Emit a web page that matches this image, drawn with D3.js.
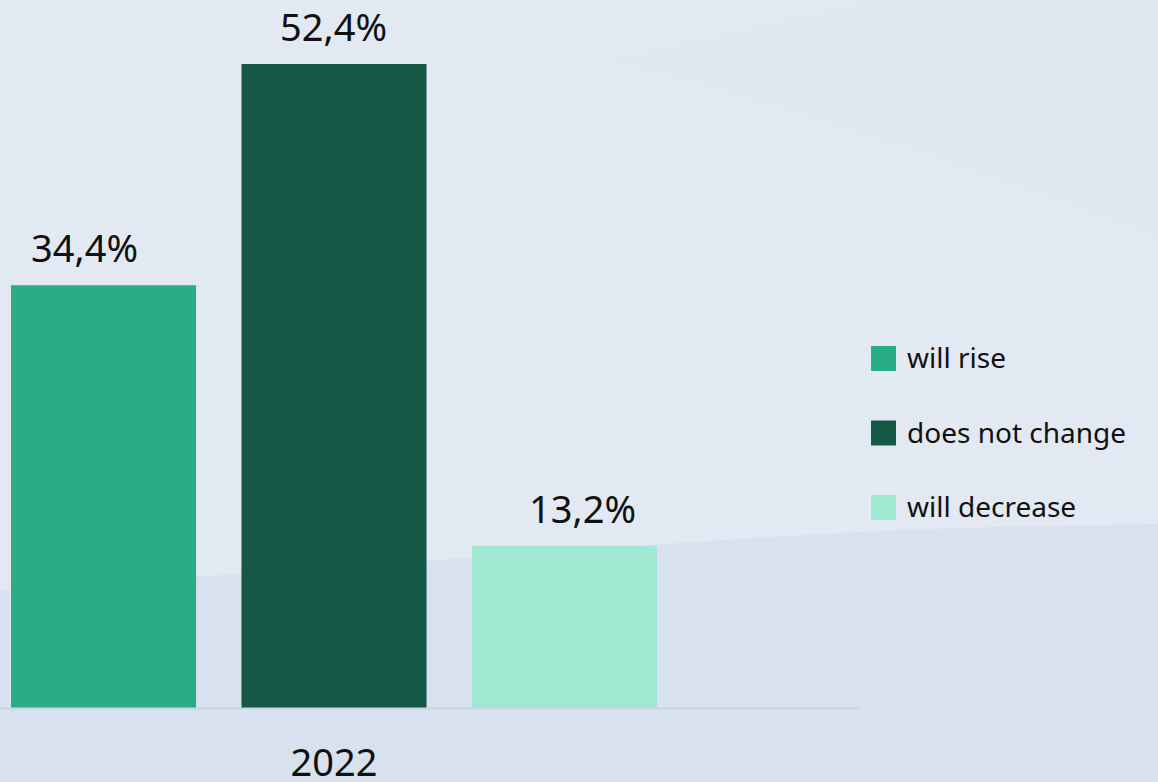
<!DOCTYPE html>
<html>
<head>
<meta charset="utf-8">
<script src="https://cdn.jsdelivr.net/npm/d3@7"></script>
<style>
  html, body { margin: 0; padding: 0; background: #e2e9f3; }
  svg { display: block; }
</style>
</head>
<body>
<svg id="chart" width="1158" height="782"></svg>
<script>
// Survey answers for 2022
const categories = ["2022"];
const series = ["will rise", "does not change", "will decrease"];
const values = [34.4, 52.4, 13.2];
const valueLabels = ["34,4%", "52,4%", "13,2%"];
const colors = ["#29ad85", "#165846", "#a1e8d3"];

const W = 1158, H = 782;
const baseY = 708, topY = 64;
const svg = d3.select("#chart");

// Background: light panel with a slightly darker lower wave
svg.append("rect").attr("width", W).attr("height", H).attr("fill", "#e2e9f3");
svg.append("path")
  .attr("d", d3.line().curve(d3.curveBasis)([
    [0, 591], [240, 574], [650, 545], [900, 528], [1158, 524]
  ]) + `L${W},${H}L0,${H}Z`)
  .attr("fill", "#d7e2ee");
svg.append("path")
  .attr("d", `M600,60 C800,110 1000,180 1158,240 L1158,0 L860,0 Z`)
  .attr("fill", "#e1e8f2").attr("opacity", 0.5);

// Scales
const x0 = d3.scaleBand().domain(categories).range([0, 668]);
const x1 = d3.scaleBand().domain(series).range([11, 657]).paddingInner(0.197);
const xl = d3.scaleBand().domain(series).range([-40, 707]);
const y = d3.scaleLinear().domain([0, 52.4]).range([baseY, topY]);
const color = d3.scaleOrdinal().domain(series).range(colors);

const rows = series.map((s, i) => ({ s, v: values[i], label: valueLabels[i] }));

// Bars
svg.append("g").selectAll("rect").data(rows).join("rect")
  .attr("x", d => x1(d.s))
  .attr("y", d => y(d.v))
  .attr("width", x1.bandwidth())
  .attr("height", d => baseY - y(d.v))
  .attr("fill", d => color(d.s));

// Value labels
svg.append("g").selectAll("text").data(rows).join("text")
  .attr("x", d => xl(d.s) + xl.bandwidth() / 2)
  .attr("y", d => y(d.v) - 23)
  .attr("text-anchor", "middle")
  .attr("font-family", "Noto Sans, sans-serif")
  .attr("font-size", 38)
  .attr("fill", "#111")
  .text(d => d.label);

// Category axis
const xAxis = svg.append("g").attr("transform", `translate(0,${baseY})`)
  .call(d3.axisBottom(x0).tickSize(0).tickPadding(0));
xAxis.select(".domain").remove();
svg.append("line")
  .attr("x1", 0).attr("x2", 859).attr("y1", baseY + 0.5).attr("y2", baseY + 0.5)
  .attr("stroke", "#cad5e2").attr("stroke-width", 2);
xAxis.selectAll(".tick text")
  .attr("y", 68).attr("dy", 0)
  .attr("font-family", "Noto Sans, sans-serif")
  .attr("font-size", 38)
  .attr("fill", "#111");

// Legend
const legend = svg.append("g").selectAll("g").data(series).join("g")
  .attr("transform", (d, i) => `translate(871,${346 + i * 74.5})`);
legend.append("rect").attr("width", 25).attr("height", 25).attr("fill", d => color(d));
legend.append("text")
  .attr("x", 36).attr("y", 22)
  .attr("font-family", "Noto Sans, sans-serif")
  .attr("font-size", 28)
  .attr("fill", "#111")
  .text(d => d);
</script>
</body>
</html>
